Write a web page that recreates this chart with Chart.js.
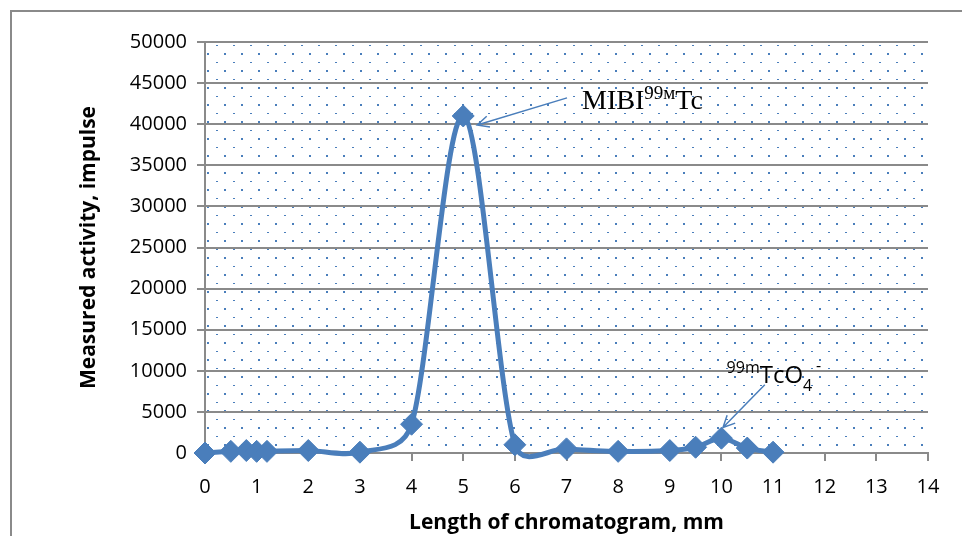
<!DOCTYPE html>
<html>
<head>
<meta charset="utf-8">
<script src="https://cdn.jsdelivr.net/npm/chart.js@4"></script>
<style>
  html, body { margin: 0; padding: 0; background: #fff; }
  #wrap { width: 962px; height: 536px; }
</style>
</head>
<body>
<div id="wrap"><canvas id="chart" width="962" height="536"></canvas></div>
<script>
const ctx = document.getElementById('chart');

const blue_color = '#4a7ebb';
const grid_color = '#8a8a8a';

// chromatogram readings
const lengths = [0, 0.5, 0.8, 1, 1.2, 2, 3, 4, 5, 6, 7, 8, 9, 9.5, 10, 10.5, 11];
const activity = [0, 200, 300, 200, 200, 300, 100, 3500, 41000, 1000, 500, 200, 300, 700, 1800, 600, 100];

const xTitle = 'Length of chromatogram, mm';
const yTitle = 'Measured activity, impulse';

// label anchors in data units: [x, y]
const mibiText = [7.3, 41900];
const mibiArrow = [[7.01, 43200], [5.27, 39900]];
const tcText = [10.1, 8500];
const tcArrow = [[10.84, 8300], [10.03, 3100]];

function makeDots(c) {
    const p = document.createElement('canvas');
    p.width = 17; p.height = 17;
    const g = p.getContext('2d');
    g.fillStyle = blue_color;
    g.fillRect(3, 2, 2, 2);
    g.fillRect(12, 11, 2, 1);
    return c.createPattern(p, 'repeat');
}

const dotsPlugin = {
    id: 'dots',
    beforeDraw(chart) {
        const c = chart.ctx, a = chart.chartArea;
        c.save();
        c.fillStyle = makeDots(c);
        c.fillRect(a.left, a.top, a.right - a.left, a.bottom - a.top);
        c.restore();
    },
    afterDraw(chart) {
        const c = chart.ctx;
        c.save();
        c.strokeStyle = grid_color;
        c.lineWidth = 2;
        c.beginPath();
        c.moveTo(11, 600); c.lineTo(11, 11); c.lineTo(1000, 11);
        c.stroke();
        c.restore();
    }
};

// excel-like smoothing: arms of 1/6 of the neighbour chord, capped at half the segment
const smoothPlugin = {
    id: 'smooth',
    beforeDatasetsDraw(chart) {
        const meta = chart.getDatasetMeta(0);
        const line = meta.dataset;
        if (line.updateControlPoints) line.updateControlPoints(chart.chartArea);
        const pts = meta.data;
        const dist = (a, b) => Math.hypot(b.x - a.x, b.y - a.y);
        pts.forEach((p, i) => {
            const prev = pts[i - 1] || p, next = pts[i + 1] || p;
            const tx = next.x - prev.x, ty = next.y - prev.y;
            const len = Math.hypot(tx, ty) || 1;
            const arm = len / 6;
            const inLen = Math.min(arm, dist(prev, p) / 2);
            const outLen = Math.min(arm, dist(p, next) / 2);
            p.cp1x = p.x - tx / len * inLen;
            p.cp1y = p.y - ty / len * inLen;
            p.cp2x = p.x + tx / len * outLen;
            p.cp2y = p.y + ty / len * outLen;
        });
        line._path = undefined;
    }
};

function arrow(c, x1, y1, x2, y2) {
    const ang = Math.atan2(y2 - y1, x2 - x1);
    const h = 13;
    c.beginPath();
    c.moveTo(x1, y1); c.lineTo(x2, y2);
    c.moveTo(x2 - h * Math.cos(ang - 0.45), y2 - h * Math.sin(ang - 0.45));
    c.lineTo(x2, y2);
    c.lineTo(x2 - h * Math.cos(ang + 0.45), y2 - h * Math.sin(ang + 0.45));
    c.stroke();
}

const labelPlugin = {
    id: 'labels',
    afterDatasetsDraw(chart) {
        const c = chart.ctx;
        const xs = chart.scales.x, ys = chart.scales.y;
        const px = v => xs.getPixelForValue(v), py = v => ys.getPixelForValue(v);
        c.save();
        c.strokeStyle = blue_color;
        c.lineWidth = 1.5;
        arrow(c, px(mibiArrow[0][0]), py(mibiArrow[0][1]), px(mibiArrow[1][0]), py(mibiArrow[1][1]));
        arrow(c, px(tcArrow[0][0]), py(tcArrow[0][1]), px(tcArrow[1][0]), py(tcArrow[1][1]));

        c.fillStyle = '#000';
        c.textBaseline = 'alphabetic';
        c.textAlign = 'left';
        // MIBI 99m Tc
        let x = px(mibiText[0]), y = py(mibiText[1]);
        c.font = '28px "Liberation Serif"';
        c.fillText('MIBI', x, y); x += c.measureText('MIBI').width;
        c.font = '19px "Liberation Serif"';
        c.fillText('99м', x, y - 10); x += c.measureText('99м').width;
        c.font = '28px "Liberation Serif"';
        c.fillText('Tc', x, y);

        // 99m TcO4 -
        x = px(tcText[0]); y = py(tcText[1]);
        c.font = '16px "Open Sans"';
        c.fillText('99m', x, y - 10); x += c.measureText('99m').width;
        c.font = '24px "Open Sans"';
        c.fillText('TcO', x, y); x += c.measureText('TcO').width;
        c.font = '16px "Open Sans"';
        c.fillText('4', x, y + 8);
        c.fillText('-', x + 13, y - 12);
        c.restore();
    }
};

const data = {
    datasets: [{
        label: 'activity',
        data: lengths.map((v, i) => ({ x: v, y: activity[i] })),
        borderColor: blue_color,
        backgroundColor: blue_color,
        borderWidth: 5,
        tension: 0.4,
        capBezierPoints: false,
        pointStyle: 'rectRot',
        pointRadius: 11,
        pointBorderWidth: 1,
        clip: false
    }]
};

const tickFont = { family: '"Open Sans"', size: 20 };
const titleFont = { family: '"Open Sans"', size: 21, weight: 'bold' };

const config = {
    type: 'scatter',
    data: data,
    options: {
        responsive: false,
        animation: false,
        showLine: true,
        layout: { padding: { top: 42, right: 34, left: 0, bottom: 0 } },
        plugins: {
            legend: { display: false },
            tooltip: { enabled: false }
        },
        scales: {
            x: {
                type: 'linear',
                min: 0,
                max: 14,
                afterFit: s => { s.height = 83; },
                ticks: { stepSize: 1, color: '#000', font: tickFont, padding: 14 },
                grid: { drawOnChartArea: false, drawTicks: true, tickLength: 8, color: grid_color, lineWidth: 2 },
                border: { display: true, color: grid_color, width: 2 },
                title: { display: true, text: xTitle, color: '#000', font: titleFont, padding: { top: 0, bottom: 0 } }
            },
            y: {
                min: 0,
                max: 50000,
                afterFit: s => { s.width = 205; },
                ticks: { stepSize: 5000, color: '#000', font: tickFont, padding: 10,
                         callback: v => String(v) },
                grid: { color: grid_color, lineWidth: 2, tickLength: 8 },
                border: { display: true, color: grid_color, width: 2 },
                title: { display: true, text: yTitle, color: '#000', font: titleFont, padding: { top: 76, bottom: 0 } }
            }
        }
    },
    plugins: [dotsPlugin, smoothPlugin, labelPlugin]
};
const myChart = new Chart(ctx, config);
</script>
</body>
</html>
